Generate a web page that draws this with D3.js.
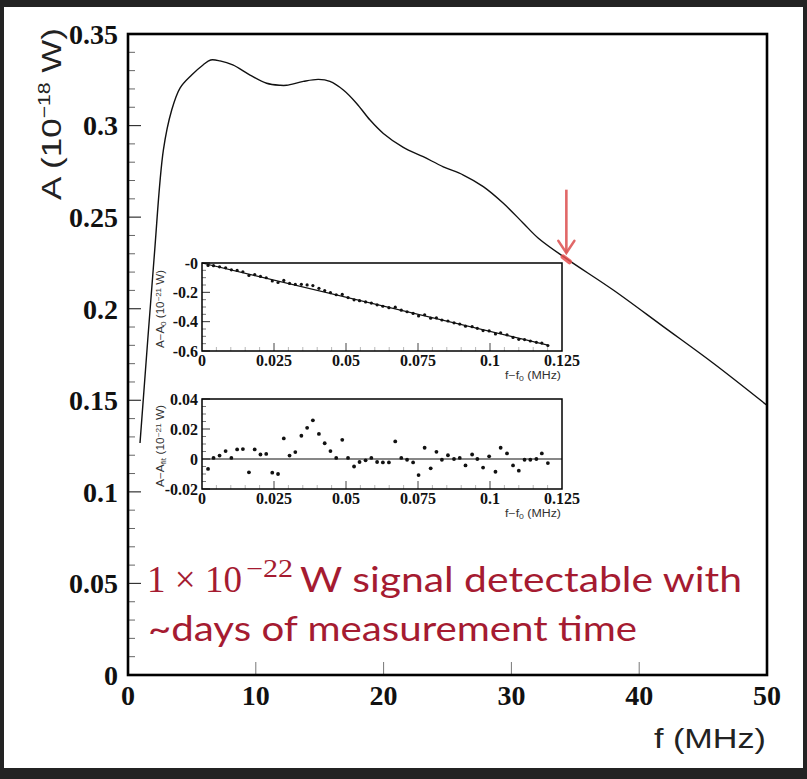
<!DOCTYPE html>
<html>
<head>
<meta charset="utf-8">
<script src="https://cdn.jsdelivr.net/npm/d3@7/dist/d3.min.js"></script>
<style>
html,body{margin:0;padding:0;background:#232323;}
svg{display:block;}
</style>
</head>
<body>
<svg id="chart" width="807" height="779"></svg>
<script>
// ---------- data ----------
// main spectrum A(f)
const mainF = [0.94, 2.03, 2.77, 3.42, 4.07, 4.98, 5.87, 6.47, 7.2, 8.2, 9.55, 10.85, 11.9, 12.41, 13.72, 14.9, 15.8, 16.85, 17.89, 18.94, 19.98, 21.54, 23.1, 24.67, 26.24, 27.8, 29.37, 30.93, 32.11, 34.33, 37.97, 41.89, 45.8, 49.97];
const mainA = [0.1267, 0.2266, 0.2867, 0.3085, 0.3205, 0.3276, 0.3331, 0.3358, 0.3353, 0.3331, 0.3276, 0.3231, 0.322, 0.322, 0.3241, 0.3252, 0.3241, 0.3194, 0.3121, 0.303, 0.2957, 0.2881, 0.283, 0.2775, 0.273, 0.2667, 0.2576, 0.2467, 0.2385, 0.2272, 0.2102, 0.1902, 0.1702, 0.1474];
const mainXTicks = [0, 10, 20, 30, 40, 50];
const mainYTicks = [0, 0.05, 0.1, 0.15, 0.2, 0.25, 0.3, 0.35];
const mainYTickLabels = ["0", "0.05", "0.1", "0.15", "0.2", "0.25", "0.3", "0.35"];

// marked frequency (arrow)
const markF = 34.3;
const markA = [0.265, 0.2305];

// inset data: f - f0 (MHz)
const insetF = [0.0021, 0.004, 0.0061, 0.0082, 0.0102, 0.0122, 0.0142, 0.0163, 0.0183, 0.0203, 0.0223, 0.0244, 0.0264, 0.0284, 0.0304, 0.0324, 0.0345, 0.0365, 0.0385, 0.0406, 0.0426, 0.0446, 0.0466, 0.0487, 0.0507, 0.0528, 0.0547, 0.0568, 0.0588, 0.0608, 0.0628, 0.0649, 0.0671, 0.0692, 0.0712, 0.0733, 0.0752, 0.0773, 0.0794, 0.0814, 0.0833, 0.0854, 0.0875, 0.0895, 0.0915, 0.0938, 0.0956, 0.0976, 0.0997, 0.1019, 0.1037, 0.1059, 0.108, 0.11, 0.112, 0.114, 0.1161, 0.118, 0.1201];
// A - A0 (10^-21 W)
const insetDelta = [-0.0164, -0.0179, -0.0261, -0.0329, -0.0468, -0.0505, -0.0596, -0.0849, -0.0789, -0.0916, -0.1005, -0.1228, -0.133, -0.1186, -0.1394, -0.1464, -0.1453, -0.1493, -0.1536, -0.1725, -0.188, -0.2025, -0.2165, -0.2141, -0.2356, -0.251, -0.2569, -0.2656, -0.2733, -0.2853, -0.2949, -0.3047, -0.301, -0.3218, -0.3323, -0.3439, -0.3611, -0.3527, -0.3762, -0.3745, -0.3887, -0.3955, -0.4078, -0.4164, -0.4307, -0.4341, -0.4455, -0.4605, -0.4628, -0.4834, -0.4757, -0.4898, -0.5076, -0.5204, -0.5224, -0.5317, -0.541, -0.5462, -0.5624];
// A - A_fit (10^-21 W)
const insetResid = [-0.0066, 0.0007, 0.0023, 0.0053, 0.0007, 0.0064, 0.0066, -0.0089, 0.0064, 0.003, 0.0034, -0.0091, -0.01, 0.0137, 0.0023, 0.0046, 0.0155, 0.0208, 0.0258, 0.0167, 0.0105, 0.0053, 0.0007, 0.0128, 0.0007, -0.005, -0.002, -0.0009, 0.0007, -0.002, -0.0023, -0.0023, 0.0117, 0.0007, -0.0005, -0.0023, -0.0107, 0.0075, -0.0062, 0.0048, -0.0005, 0.0025, 0, 0.0007, -0.0043, 0.003, 0, -0.0057, 0.0018, -0.0085, 0.0075, 0.0037, -0.0043, -0.0078, -0.0005, -0.0005, 0, 0.0037, -0.0027];
const fitF = [0, 0.1201];
const fitDelta = [0.0, -0.5597];
const insetXTicks = [0, 0.025, 0.05, 0.075, 0.1, 0.125];
const insetXTickLabels = ["0", "0.025", "0.05", "0.075", "0.1", "0.125"];
const inset1YTicks = [0, -0.2, -0.4, -0.6];
const inset1YTickLabels = ["-0", "-0.2", "-0.4", "-0.6"];
const inset2YTicks = [0.04, 0.02, 0, -0.02];
const inset2YTickLabels = ["0.04", "0.02", "0", "-0.02"];

// ---------- drawing ----------
const svg = d3.select("#chart");
const SERIF = "'Liberation Serif','DejaVu Serif',serif";
const SANS = "'Liberation Sans','DejaVu Sans',sans-serif";
const LATO = "Lato,'Open Sans',sans-serif";
const RED = "#a51b31";

svg.append("rect").attr("x", 4).attr("y", 7).attr("width", 799).attr("height", 761).attr("fill", "#ffffff");

const x = d3.scaleLinear().domain([0, 50]).range([128, 767]);
const y = d3.scaleLinear().domain([0, 0.35]).range([675, 34]);

// minor y ticks
const yMinor = d3.range(0, 36).map(i => i / 100).filter(v => Math.abs(Math.round(v * 20) - v * 20) > 1e-6);
svg.append("g").selectAll("line").data(yMinor).join("line")
  .attr("x1", x(0)).attr("x2", x(0) + 7)
  .attr("y1", d => y(d)).attr("y2", d => y(d))
  .attr("stroke", "#666").attr("stroke-width", 1);
svg.append("g").selectAll("line").data(mainYTicks).join("line")
  .attr("x1", x(0)).attr("x2", x(0) + 13)
  .attr("y1", d => y(d)).attr("y2", d => y(d))
  .attr("stroke", "#333").attr("stroke-width", 1.2);
svg.append("g").selectAll("line").data(mainXTicks.slice(1, -1)).join("line")
  .attr("x1", d => x(d)).attr("x2", d => x(d))
  .attr("y1", y(0)).attr("y2", y(0) - 13)
  .attr("stroke", "#777").attr("stroke-width", 1);

// y tick labels
svg.append("g").selectAll("text").data(mainYTicks).join("text")
  .attr("x", 118).attr("y", d => y(d)).attr("dy", "0.35em")
  .attr("text-anchor", "end")
  .attr("font-family", SERIF).attr("font-weight", "bold").attr("font-size", 28)
  .attr("fill", "#111")
  .text((d, i) => mainYTickLabels[i]);
// x tick labels
svg.append("g").selectAll("text").data(mainXTicks).join("text")
  .attr("x", d => x(d)).attr("y", 705)
  .attr("text-anchor", "middle")
  .attr("font-family", SERIF).attr("font-weight", "bold").attr("font-size", 28)
  .attr("fill", "#111")
  .text(d => d);

// main curve
const mainData = mainF.map((f, i) => [f, mainA[i]]);
svg.append("path").datum(mainData)
  .attr("d", d3.line().x(d => x(d[0])).y(d => y(d[1])).curve(d3.curveCatmullRom.alpha(0.5)))
  .attr("fill", "none").attr("stroke", "#111").attr("stroke-width", 1.4);

// frame
svg.append("rect").attr("x", x(0)).attr("y", y(0.35))
  .attr("width", x(50) - x(0)).attr("height", y(0) - y(0.35))
  .attr("fill", "none").attr("stroke", "#000").attr("stroke-width", 2.6);

// axis titles
const yt = svg.append("text")
  .attr("transform", "translate(61,114) rotate(-90)")
  .attr("text-anchor", "middle")
  .attr("font-family", SANS).attr("font-size", 28).attr("fill", "#222");
yt.append("tspan").text("A (10");
yt.append("tspan").attr("font-size", 17).attr("dy", -11).text("−18");
yt.append("tspan").attr("dy", 11).text(" W)");
yt.attr("textLength", 172).attr("lengthAdjust", "spacingAndGlyphs");

svg.append("text").attr("x", 766).attr("y", 748).attr("text-anchor", "end")
  .attr("font-family", SANS).attr("font-size", 27).attr("fill", "#222")
  .attr("textLength", 112).attr("lengthAdjust", "spacingAndGlyphs")
  .text("f (MHz)");

// ---------- insets ----------
function drawInset(cfg) {
  const g = svg.append("g");
  const xs = d3.scaleLinear().domain([0, 0.125]).range([202, 562]);
  const ys = d3.scaleLinear().domain(cfg.yDomain).range([cfg.bottom, cfg.top]);
  // minor y ticks
  g.selectAll("line.ymin").data(cfg.yMinor).join("line")
    .attr("x1", xs(0)).attr("x2", xs(0) + 4)
    .attr("y1", d => ys(d)).attr("y2", d => ys(d))
    .attr("stroke", "#555").attr("stroke-width", 0.8);
  g.selectAll("line.ymaj").data(cfg.yTicks).join("line")
    .attr("x1", xs(0)).attr("x2", xs(0) + 8)
    .attr("y1", d => ys(d)).attr("y2", d => ys(d))
    .attr("stroke", "#333").attr("stroke-width", 1);
  const xMinor = d3.range(1, 25).map(i => i * 0.005).filter(v => Math.abs(Math.round(v * 40) - v * 40) > 1e-6);
  g.selectAll("line.xmin").data(xMinor).join("line")
    .attr("x1", d => xs(d)).attr("x2", d => xs(d))
    .attr("y1", cfg.bottom).attr("y2", cfg.bottom - 4)
    .attr("stroke", "#999").attr("stroke-width", 0.7);
  g.selectAll("line.xmaj").data(insetXTicks.slice(1, -1)).join("line")
    .attr("x1", d => xs(d)).attr("x2", d => xs(d))
    .attr("y1", cfg.bottom).attr("y2", cfg.bottom - 8)
    .attr("stroke", "#444").attr("stroke-width", 1);
  // labels
  g.selectAll("text.yl").data(cfg.yTicks).join("text")
    .attr("x", 198).attr("y", d => ys(d)).attr("dy", "0.35em")
    .attr("text-anchor", "end")
    .attr("font-family", SERIF).attr("font-weight", "bold").attr("font-size", 16)
    .attr("fill", "#111")
    .text((d, i) => cfg.yLabels[i]);
  g.selectAll("text.xl").data(insetXTicks).join("text")
    .attr("x", d => xs(d)).attr("y", cfg.bottom + 15)
    .attr("text-anchor", "middle")
    .attr("font-family", SERIF).attr("font-weight", "bold").attr("font-size", 16)
    .attr("fill", "#111")
    .text((d, i) => insetXTickLabels[i]);
  // x title
  const xt = g.append("text").attr("x", 561).attr("y", cfg.bottom + 28)
    .attr("text-anchor", "end").attr("font-family", SANS).attr("font-size", 10).attr("fill", "#333");
  xt.append("tspan").text("f−f");
  xt.append("tspan").attr("font-size", 7).attr("dy", 2).text("0");
  xt.append("tspan").attr("dy", -2).text(" (MHz)");
  xt.attr("textLength", 56).attr("lengthAdjust", "spacingAndGlyphs");
  // y title
  const ytt = g.append("text")
    .attr("transform", `translate(164,${(cfg.top + cfg.bottom) / 2 + 2}) rotate(-90)`)
    .attr("text-anchor", "middle").attr("font-family", SANS).attr("font-size", 10).attr("fill", "#333");
  ytt.append("tspan").text("A−A");
  ytt.append("tspan").attr("font-size", 7).attr("dy", 2).text(cfg.sub);
  ytt.append("tspan").attr("dy", -2).text(" (10");
  ytt.append("tspan").attr("font-size", 7).attr("dy", -3).text("−21");
  ytt.append("tspan").attr("dy", 3).text(" W)");
  ytt.attr("textLength", cfg.titleLen).attr("lengthAdjust", "spacingAndGlyphs");
  // content
  cfg.content(g, xs, ys);
  // frame
  g.append("rect").attr("x", xs(0)).attr("y", cfg.top)
    .attr("width", xs(0.125) - xs(0)).attr("height", cfg.bottom - cfg.top)
    .attr("fill", "none").attr("stroke", "#000").attr("stroke-width", 1.5);
}

drawInset({
  top: 263, bottom: 351, yDomain: [-0.6, 0],
  yTicks: inset1YTicks, yLabels: inset1YTickLabels, sub: "0", titleLen: 78,
  yMinor: d3.range(1, 12).map(i => -i * 0.05).filter(v => Math.abs(Math.round(v * 5) - v * 5) > 1e-6),
  content: (g, xs, ys) => {
    g.append("path").datum(fitF.map((f, i) => [f, fitDelta[i]]))
      .attr("d", d3.line().x(d => xs(d[0])).y(d => ys(d[1])))
      .attr("stroke", "#111").attr("stroke-width", 1.2).attr("fill", "none");
    g.selectAll("circle").data(insetF.map((f, i) => [f, insetDelta[i]])).join("circle")
      .attr("cx", d => xs(d[0])).attr("cy", d => ys(d[1])).attr("r", 1.6).attr("fill", "#111");
  }
});

drawInset({
  top: 399, bottom: 489, yDomain: [-0.02, 0.04],
  yTicks: inset2YTicks, yLabels: inset2YTickLabels, sub: "fit", titleLen: 82,
  yMinor: d3.range(-3, 9).map(i => i * 0.005).filter(v => Math.abs(Math.round(v * 50) - v * 50) > 1e-6),
  content: (g, xs, ys) => {
    g.append("line").attr("x1", xs(0)).attr("x2", xs(0.125))
      .attr("y1", ys(0)).attr("y2", ys(0)).attr("stroke", "#111").attr("stroke-width", 1.2);
    g.selectAll("circle").data(insetF.map((f, i) => [f, insetResid[i]])).join("circle")
      .attr("cx", d => xs(d[0])).attr("cy", d => ys(d[1])).attr("r", 1.9).attr("fill", "#111");
  }
});

// ---------- arrow ----------
const ARROW = "rgba(222,88,88,0.9)";
const ax = x(markF);
svg.append("line").attr("x1", ax).attr("x2", ax).attr("y1", y(markA[0])).attr("y2", y(markA[1]))
  .attr("stroke", ARROW).attr("stroke-width", 2.6);
svg.append("path")
  .attr("d", `M${ax - 8},${y(markA[1]) - 12} L${ax},${y(markA[1])} L${ax + 8},${y(markA[1]) - 12}`)
  .attr("fill", "none").attr("stroke", ARROW).attr("stroke-width", 2.6).attr("stroke-linecap", "round");
// highlighted point on the curve
const onCurve = [[markF - 0.25, 0.2283], [markF + 0.25, 0.2256]];
svg.append("path").datum(onCurve)
  .attr("d", d3.line().x(d => x(d[0])).y(d => y(d[1])))
  .attr("stroke", "rgba(230,80,80,0.85)").attr("stroke-width", 5).attr("stroke-linecap", "round");

// ---------- annotation ----------
svg.append("text").attr("x", 147).attr("y", 592)
  .attr("font-family", SERIF).attr("font-size", 37).attr("fill", RED)
  .attr("textLength", 95).attr("lengthAdjust", "spacingAndGlyphs")
  .text("1 × 10");
svg.append("text").attr("x", 246).attr("y", 577)
  .attr("font-family", SERIF).attr("font-size", 25).attr("fill", RED)
  .attr("textLength", 47).attr("lengthAdjust", "spacingAndGlyphs")
  .text("−22");
svg.append("text").attr("x", 300).attr("y", 592)
  .attr("font-family", LATO).attr("font-size", 34).attr("fill", RED)
  .attr("textLength", 442).attr("lengthAdjust", "spacingAndGlyphs")
  .text("W signal detectable with");
svg.append("text").attr("x", 148).attr("y", 641)
  .attr("font-family", LATO).attr("font-size", 34).attr("fill", RED)
  .attr("textLength", 489).attr("lengthAdjust", "spacingAndGlyphs")
  .text("~days of measurement time");
</script>
</body>
</html>
